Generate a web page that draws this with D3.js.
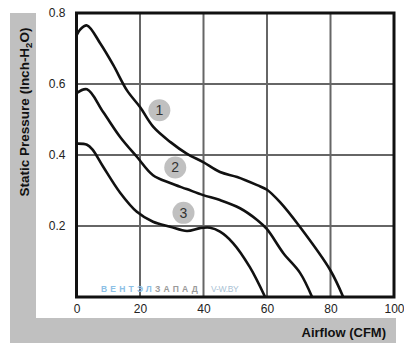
<!DOCTYPE html>
<html>
<head>
<meta charset="utf-8">
<script src="https://cdn.jsdelivr.net/npm/d3@7"></script>
<style>
    body { margin: 0; background: #fff; }
    svg { display: block; font-family: "Liberation Sans", Arial, sans-serif; }
    .tick text { fill: #222; font-size: 12px; }
    .axis path { display: none; }
</style>
</head>
<body>
<svg id="chart"></svg>
<script>
// fan curves (airflow CFM, pressure inch-H2O)
const curve1 = [[0,0.737],[1.2,0.754],[3.3,0.765],[7.5,0.714],[11.6,0.653],[15.9,0.582],[20,0.535],
    [24.2,0.479],[29.5,0.437],[34.7,0.404],[39.9,0.380],[45.2,0.352],[50.6,0.338],[56.9,0.315],
    [60,0.302],[64.1,0.267],[70.4,0.197],[79.9,0.076],[84,0]]
const curve2 = [[0,0.574],[3.3,0.585],[8.4,0.521],[13.8,0.450],[19,0.395],[24.1,0.343],[29.5,0.321],
    [34.7,0.304],[39.9,0.287],[45.2,0.273],[51.5,0.250],[56.9,0.217],[60,0.191],[65.1,0.124],
    [70.4,0.068],[74.2,0]]
const curve3 = [[0,0.432],[3.3,0.429],[5,0.416],[8.4,0.367],[13.8,0.293],[19,0.240],[24.1,0.212],
    [29.5,0.198],[34.8,0.186],[38.9,0.194],[42.1,0.195],[45.2,0.184],[49.3,0.152],[54.6,0.084],[59.4,0]]
const curves = [curve1, curve2, curve3]
const curveLabels = ['1', '2', '3']
const labelPos = [[26.1,0.526],[31.1,0.365],[33.7,0.237]]

const xTicks = [0, 20, 40, 60, 80, 100]
const yTicks = [0.2, 0.4, 0.6, 0.8]
const xGrid = [20, 40, 60, 80]
const yGrid = [0.2, 0.4, 0.6]

const width = 404, height = 351

const svg = d3.select('#chart')
    .attr('width', width)
    .attr('height', height)

const x = d3.scaleLinear().domain([0, 100]).range([76.5, 394])
const y = d3.scaleLinear().domain([0, 0.8]).range([297, 13])

// gray frame strips
svg.append('rect')
    .attr('x', 10).attr('y', 13).attr('width', 26).attr('height', 330)
    .attr('fill', '#c0c0c0')
svg.append('rect')
    .attr('x', 10).attr('y', 318).attr('width', 386).attr('height', 25)
    .attr('fill', '#c0c0c0')

// grid
svg.append('g').selectAll('line').data(xGrid).join('line')
    .attr('x1', d => x(d)).attr('x2', d => x(d))
    .attr('y1', y(0)).attr('y2', y(0.8))
    .attr('stroke', '#666').attr('stroke-width', 2)
svg.append('g').selectAll('line').data(yGrid).join('line')
    .attr('x1', x(0)).attr('x2', x(100))
    .attr('y1', d => y(d)).attr('y2', d => y(d))
    .attr('stroke', '#666').attr('stroke-width', 2)

// watermark
const wm = svg.append('text')
    .attr('x', 101).attr('y', 292)
    .attr('font-size', 8.5).attr('font-weight', 'bold')
    .attr('letter-spacing', 3.2)
wm.append('tspan').attr('fill', '#8cc0e6').text('ВЕНТЭЛ')
wm.append('tspan').attr('fill', '#9a9a9a').text('ЗАПАД')
svg.append('text')
    .attr('x', 211).attr('y', 292)
    .attr('font-size', 8.5).attr('fill', '#a9bfd4')
    .attr('letter-spacing', -0.3)
    .text('V-W.BY')

// plot border
svg.append('rect')
    .attr('x', x(0)).attr('y', y(0.8))
    .attr('width', x(100) - x(0)).attr('height', y(0) - y(0.8))
    .attr('fill', 'none').attr('stroke', '#111').attr('stroke-width', 3)

// curves
const line = d3.line()
    .x(d => x(d[0]))
    .y(d => y(d[1]))
    .curve(d3.curveCatmullRom)

svg.append('g').selectAll('path').data(curves).join('path')
    .attr('d', line)
    .attr('fill', 'none')
    .attr('stroke', '#111')
    .attr('stroke-width', 2.6)

// number badges
const badge = svg.append('g').selectAll('g').data(labelPos).join('g')
    .attr('transform', d => `translate(${x(d[0])},${y(d[1])})`)
badge.append('circle').attr('r', 11).attr('fill', '#c0c0c0')
badge.append('text')
    .attr('text-anchor', 'middle').attr('dy', '0.36em')
    .attr('font-size', 14).attr('fill', '#333')
    .text((d, i) => curveLabels[i])

// axes (labels only)
svg.append('g')
    .attr('class', 'axis')
    .attr('transform', `translate(${x(0) - 10},0)`)
    .call(d3.axisLeft(y).tickValues(yTicks).tickSize(0).tickPadding(1).tickFormat(d3.format('.1f')))

svg.append('g')
    .attr('class', 'axis')
    .attr('transform', `translate(0,${y(0) + 6})`)
    .call(d3.axisBottom(x).tickValues(xTicks).tickSize(0).tickPadding(1))

// axis titles
const yt = svg.append('text')
    .attr('transform', 'translate(29,112) rotate(-90)')
    .attr('text-anchor', 'middle')
    .attr('font-size', 13.5).attr('font-weight', 'bold').attr('fill', '#111')
yt.append('tspan').text('Static Pressure (Inch-H')
yt.append('tspan').attr('font-size', 9.5).attr('dy', 3).text('2')
yt.append('tspan').attr('dy', -3).text('O)')

svg.append('text')
    .attr('x', 386).attr('y', 337)
    .attr('text-anchor', 'end')
    .attr('font-size', 13).attr('font-weight', 'bold').attr('fill', '#111')
    .text('Airflow (CFM)')
</script>
</body>
</html>
